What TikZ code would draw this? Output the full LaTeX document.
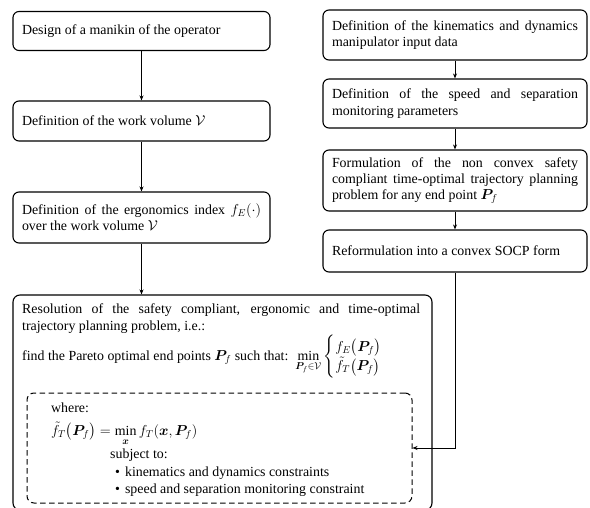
\documentclass[tikz,border=0pt]{standalone}
\usepackage{amsmath,bm}
\usepackage{fontspec}
\setmainfont{Liberation Serif}
\usetikzlibrary{arrows.meta}
\begin{document}
\begin{tikzpicture}[x=1pt,y=-1pt, font=\fontsize{13.9}{16.3}\selectfont,
  box/.style={draw, rounded corners=6pt, line width=1.1pt, inner xsep=9pt, inner ysep=2pt, align=justify, anchor=center},
  lbox/.style={box, text width=239pt},
  rbox/.style={box, text width=246pt},
  frame/.style={draw, rounded corners=7pt, line width=1.1pt, inner sep=0pt},
  dframe/.style={draw, rounded corners=7pt, line width=1pt, inner sep=0pt, dash pattern=on 5.5pt off 3.5pt},
  txt/.style={inner sep=0pt, anchor=west},
  arr/.style={-{Stealth[length=5pt,width=4pt]}, line width=1pt}]
\useasboundingbox (0,0) rectangle (590,508);
% left column
\node[lbox, minimum height=39pt] (L1) at (141.5,31) {Design of a manikin of the operator};
\node[lbox, minimum height=40pt] (L2) at (141.5,121) {Definition of the work volume $\mathcal{V}$};
\node[lbox, minimum height=51pt] (L3) at (141.5,217.5) {Definition of the ergonomics index $f_E(\cdot)$\linebreak over the work volume $\mathcal{V}$};
% right column
\node[rbox, minimum height=50pt] (R1) at (455,35) {Definition of the kinematics and dynamics\linebreak manipulator input data};
\node[rbox, minimum height=49pt] (R2) at (455,103.5) {Definition of the speed and separation\linebreak monitoring parameters};
\node[rbox, minimum height=61pt] (R3) at (455,180.5) {Formulation of the non convex safety\linebreak compliant time-optimal trajectory planning\linebreak problem for any end point $\bm{P}_f$};
\node[rbox, minimum height=42pt] (R4) at (455,251) {Reformulation into a convex SOCP form};
% big box
\node[frame, minimum width=419pt, minimum height=215pt] (big) at (222.5,402.5) {};
\node[inner sep=0pt, anchor=north west, text width=398pt, align=justify] (t1) at (22,304) {Resolution of the safety compliant, ergonomic and time-optimal\linebreak trajectory planning problem, i.e.:};
\node[txt] (t2) at (22,357) {find the Pareto optimal end points $\bm{P}_f$ such that:\ \ $\displaystyle\min_{\bm{P}_f\in\mathcal{V}}\begin{cases} f_E\bigl(\bm{P}_f\bigr)\\ \tilde{f}_T\bigl(\bm{P}_f\bigr)\end{cases}$};
% dashed box
\node[dframe, minimum width=385pt, minimum height=110pt] (dbox) at (219.5,448) {};
\node[txt] (w) at (51,408) {where:};
\node[txt] (eq) at (51,434) {$\displaystyle\tilde{f}_T\bigl(\bm{P}_f\bigr) = \min_{\bm{x}} f_T(\bm{x},\bm{P}_f)$};
\node[txt] (s) at (110,455) {subject to:};
\node[txt] (b1) at (115,473) {\textbullet\hspace{5pt}kinematics and dynamics constraints};
\node[txt] (b2) at (115,490) {\textbullet\hspace{5pt}speed and separation monitoring constraint};
% arrows
\draw[arr] (L1) -- (L2);
\draw[arr] (L2) -- (L3);
\draw[arr] (L3.south) -- (L3.south |- big.north);
\draw[arr] (R1) -- (R2);
\draw[arr] (R2) -- (R3);
\draw[arr] (R3) -- (R4);
\draw[arr] (R4.south) |- (dbox.east);
\end{tikzpicture}
\end{document}
